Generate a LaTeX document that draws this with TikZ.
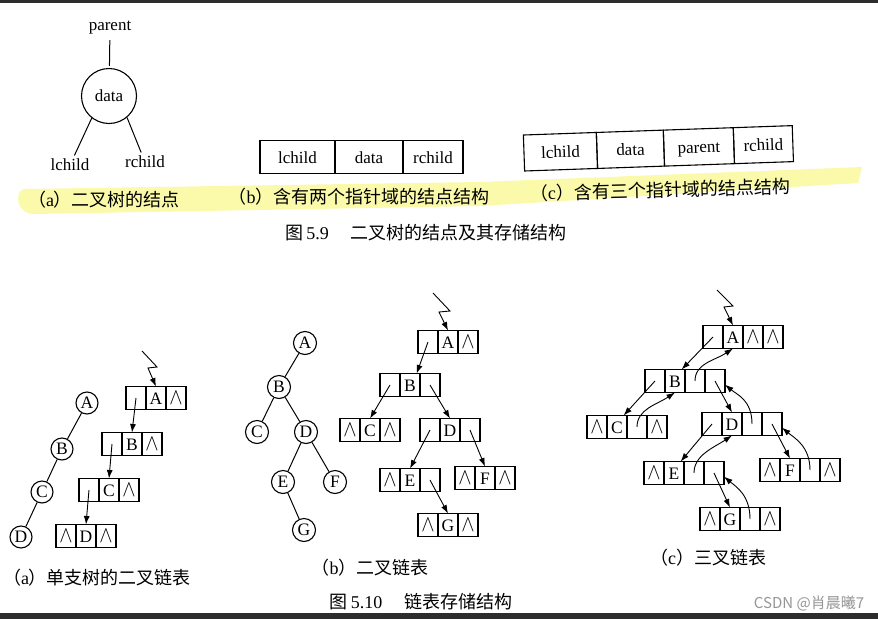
\documentclass[tikz,border=0pt]{standalone}
\usepackage{fontspec}
\usepackage{graphicx}
\setmainfont{Liberation Serif}
\newfontfamily\cjk{Noto Sans CJK SC}
\usetikzlibrary{positioning,arrows.meta}
\definecolor{hlyellow}{RGB}{250,250,170}
\definecolor{barcol}{RGB}{45,45,45}
\definecolor{wmgray}{RGB}{150,150,150}

\newcommand{\nullp}{\scalebox{1.15}[1.35]{$\wedge$}}

\tikzset{
  lbl/.style={font=\fontsize{17}{18}\selectfont},
  field/.style={draw, line width=1.1pt, inner sep=0pt, outer sep=0pt,
    minimum height=33pt, text height=12pt, text depth=0pt, lbl},
  cell/.style={draw, line width=1.1pt, inner sep=0pt, outer sep=0pt,
    minimum width=20pt, minimum height=23pt, text height=12pt, text depth=0pt,
    font=\fontsize{17.5}{18}\selectfont},
  tnode/.style={circle, draw, line width=1.1pt, minimum size=22pt, inner sep=0pt,
    font=\fontsize{17.5}{18}\selectfont},
  ptr/.style={line width=0.9pt, -{Latex[length=8.5pt,width=6pt]}},
  captext/.style={font=\cjk\fontsize{18}{20}\selectfont},
}

% one record of a linked list: name, west end, fields
\newcommand{\linkrec}[3]{%
  \foreach \f [count=\k] in {#3}{%
    \node[cell, xshift={(\k-0.5)*\cw}] (#1-\k) at (#2) {\f};
  }%
}

\begin{document}
\begin{tikzpicture}[x=1pt, y=-1pt]
  \def\cw{20pt}
  \useasboundingbox (0,0) rectangle (878,619);
  \fill[white] (0,0) rectangle (878,619);

  % screenshot frame
  \fill[barcol] (0,0) rectangle (878,3);
  \fill[barcol] (0,613) rectangle (878,619);

  % highlighter stroke under the sub-captions
  \fill[hlyellow] (24,189) -- (480,182) -- (862,167) -- (858,183) -- (480,206)
    -- (34,214) .. controls (16,214) and (14,191) .. (24,189) -- cycle;

  % ---- Fig 5.9 (a) node of a binary tree
  \node[tnode, minimum size=55pt, lbl] (dat) at (109,96) {data};
  \node[lbl] (par) at (110,28) {parent};
  \node[lbl] (lch) at (70,165) {lchild};
  \node[lbl] (rch) at (145,162) {rchild};
  \draw[line width=1pt, shorten <=2pt, shorten >=2pt] (par) -- (dat);
  \draw[line width=1pt] (dat.232) -- (lch);
  \draw[line width=1pt] (dat.-50) -- (rch);

  % ---- Fig 5.9 (b) two pointer fields
  \node[field, minimum width=75pt, anchor=west] (bl) at (260,157) {lchild};
  \node[field, minimum width=68pt, right=0pt of bl] (bd) {data};
  \node[field, minimum width=60pt, right=0pt of bd] (br) {rchild};

  % ---- Fig 5.9 (c) three pointer fields
  \node[field, minimum width=73pt, minimum height=36pt, rotate=2, anchor=west] (cl) at (524,153) {lchild};
  \node[field, minimum width=67pt, minimum height=36pt, rotate=2, anchor=west] (cd) at (cl.east) {data};
  \node[field, minimum width=70pt, minimum height=36pt, rotate=2, anchor=west] (cp) at (cd.east) {parent};
  \node[field, minimum width=59pt, minimum height=36pt, rotate=2, anchor=west] (cr) at (cp.east) {rchild};

  \node[captext] (capa) at (104,200) {（\textrm{a}）二叉树的结点};
  \node[captext] (capb) at (359,197) {（\textrm{b}）含有两个指针域的结点结构};
  \node[captext, rotate=1.5] (capc) at (660,190) {（\textrm{c}）含有三个指针域的结点结构};
  \node[captext] (fig59) at (426,233) {图\,\textrm{5.9}\hspace{1.2em}二叉树的结点及其存储结构};

  % ---- Fig 5.10 (a) single-branch tree
  \node[tnode] (stA) at (87,403) {A};
  \node[tnode] (stB) at (62,449) {B};
  \node[tnode] (stC) at (42,492) {C};
  \node[tnode] (stD) at (21,537) {D};
  \draw[line width=1pt] (stA) -- (stB) -- (stC) -- (stD);

  \linkrec{slA}{126,398}{{},A,\nullp}
  \linkrec{slB}{102,444}{{},B,\nullp}
  \linkrec{slC}{79,490}{{},C,\nullp}
  \linkrec{slD}{56,536}{\nullp,D,\nullp}
  \coordinate (slHead) at (142,351);
  \draw[ptr] (slHead) -- ++(15,16) -- ++(-9,1) -- (slA-2.north);
  \draw[ptr] (slA-1.center) -- (slB-2.north);
  \draw[ptr] (slB-1.center) -- (slC-2.north);
  \draw[ptr] (slC-1.center) -- (slD-2.north);

  % ---- Fig 5.10 (b) binary tree and binary list
  \node[tnode, minimum size=23pt] (btA) at (305,343) {A};
  \node[tnode, minimum size=23pt] (btB) at (279,387) {B};
  \node[tnode, minimum size=23pt] (btC) at (257,432) {C};
  \node[tnode, minimum size=23pt] (btD) at (306,432) {D};
  \node[tnode, minimum size=23pt] (btE) at (283,482) {E};
  \node[tnode, minimum size=23pt] (btF) at (335,482) {F};
  \node[tnode, minimum size=23pt] (btG) at (304,530) {G};
  \draw[line width=1pt] (btA) -- (btB) -- (btC);
  \draw[line width=1pt] (btB) -- (btD) -- (btE) -- (btG);
  \draw[line width=1pt] (btD) -- (btF);

  \linkrec{blA}{418,342}{{},A,\nullp}
  \linkrec{blB}{380,385}{{},B,{}}
  \linkrec{blC}{340,430}{\nullp,C,\nullp}
  \linkrec{blD}{420,430}{{},D,{}}
  \linkrec{blE}{380,480}{\nullp,E,{}}
  \linkrec{blF}{455,478}{\nullp,F,\nullp}
  \linkrec{blG}{418,525}{\nullp,G,\nullp}
  \coordinate (blHead) at (433,293);
  \draw[ptr] (blHead) -- ++(17,18) -- ++(-11,1) -- (blA-2.north);
  \draw[ptr] (blA-1.center) -- (blB-2.60);
  \draw[ptr] (blB-1.center) -- (blC-2.north);
  \draw[ptr] (blB-3.center) -- (blD-2.north);
  \draw[ptr] (blD-1.center) -- (blE-2.north);
  \draw[ptr] (blD-3.center) -- (blF-2.north);
  \draw[ptr] (blE-3.center) -- (blG-2.north);

  % ---- Fig 5.10 (c) trinary list
  \linkrec{tlA}{703,337}{{},A,\nullp,\nullp}
  \linkrec{tlB}{645,381}{{},B,{},{}}
  \linkrec{tlC}{587,427}{\nullp,C,{},\nullp}
  \linkrec{tlD}{702,424}{{},D,{},{}}
  \linkrec{tlE}{644,473}{\nullp,E,{},{}}
  \linkrec{tlF}{760,470}{\nullp,F,{},\nullp}
  \linkrec{tlG}{700,519}{\nullp,G,{},\nullp}
  \coordinate (tlHead) at (717,290);
  \draw[ptr] (tlHead) -- ++(16,16) -- ++(-9,1) -- (tlA-2.north);
  % child links
  \draw[ptr] (tlA-1.center) -- (tlB-2.60);
  \draw[ptr] (tlB-1.center) -- (tlC-2.60);
  \draw[ptr] (tlB-4.center) -- (tlD-2.north);
  \draw[ptr] (tlD-1.center) -- (tlE-2.60);
  \draw[ptr] (tlD-4.center) -- (tlF-2.north);
  \draw[ptr] (tlE-4.center) -- (tlG-2.north);
  % parent links
  \draw[ptr] (tlB-3.center) .. controls +(0,-18) and +(-18,12) .. (tlA-2.south);
  \draw[ptr] (tlC-3.center) .. controls +(0,-18) and +(-18,12) .. (tlB-2.south);
  \draw[ptr] (tlE-3.center) .. controls +(0,-18) and +(-18,12) .. (tlD-2.south);
  \draw[ptr] (tlD-3.center) .. controls +(0,-24) and +(12,10) .. (tlB-4.-20);
  \draw[ptr] (tlF-3.center) .. controls +(0,-24) and +(12,10) .. (tlD-4.-20);
  \draw[ptr] (tlG-3.center) .. controls +(0,-24) and +(12,10) .. (tlE-4.-20);

  \node[captext] (capa2) at (97,578) {（\textrm{a}）单支树的二叉链表};
  \node[captext] (capb2) at (370,568) {（\textrm{b}）二叉链表};
  \node[captext] (capc2) at (708,558) {（\textrm{c}）三叉链表};
  \node[captext] (fig510) at (421,602) {图\,\textrm{5.10}\hspace{1.2em}链表存储结构};
  \node[font=\cjk\fontsize{15}{16}\selectfont, text=wmgray] (wm) at (809,603) {CSDN @肖晨曦7};
\end{tikzpicture}
\end{document}
